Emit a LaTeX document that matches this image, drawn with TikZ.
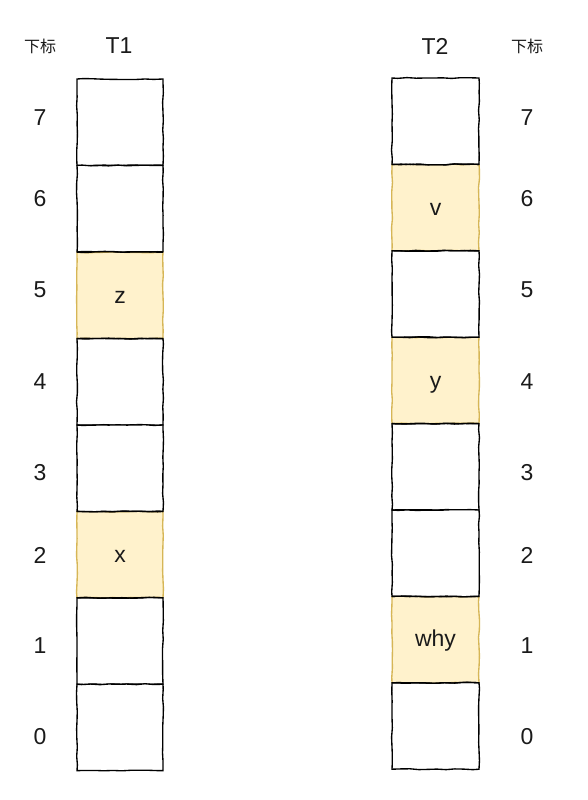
\documentclass[tikz,border=0pt]{standalone}
\usepackage{fontspec}
\setmainfont{Liberation Sans}
\newfontfamily\cjk{Noto Sans CJK SC}
\usetikzlibrary{decorations.pathmorphing}
\definecolor{hlfill}{HTML}{FFF2CC}
\definecolor{hldraw}{HTML}{D6B656}
\definecolor{txt}{HTML}{1A1A1A}
\tikzset{
  rough/.style={decorate,decoration={random steps,segment length=9pt,amplitude=0.5pt}},
  cellbox/.style={rectangle,draw=black,line width=1.35pt,fill=white,rough,
    minimum width=86pt,minimum height=86.4pt,inner sep=0pt,outer sep=0pt,
    font=\fontsize{23}{26}\selectfont,text=txt},
  hlbox/.style={cellbox,draw=hldraw,fill=hlfill,text height=16.5pt,text depth=0pt},
  idx/.style={font=\fontsize{23}{26}\selectfont,inner sep=0pt,text=txt},
  head/.style={font=\fontsize{23}{26}\selectfont,inner sep=0pt,text=txt},
  sub/.style={font=\cjk\fontsize{16}{18}\selectfont,inner sep=0pt,text=txt}
}
\begin{document}
\begin{tikzpicture}[x=1pt,y=-1pt]
\useasboundingbox[fill=white] (0,0) rectangle (588,800);
% highlighted cells first
\node[hlbox] (a5) at (120,295.4) {z};
\node[hlbox] (a2) at (120,554.6) {x};
\node[hlbox,minimum width=87pt] (b6) at (435.5,207.6) {v};
\node[hlbox,minimum width=87pt] (b4) at (435.5,380.4) {y};
\node[hlbox,minimum width=87pt,text depth=3pt] (b1) at (435.5,639.6) {why};
% plain cells
\node[cellbox] (a7) at (120,122.2) {};
\node[cellbox] (a6) at (120,208.6) {};
\node[cellbox] (a4) at (120,381.8) {};
\node[cellbox] (a3) at (120,468.2) {};
\node[cellbox] (a1) at (120,641.0) {};
\node[cellbox] (a0) at (120,727.4) {};
\node[cellbox,minimum width=87pt] (b7) at (435.5,121.2) {};
\node[cellbox,minimum width=87pt] (b5) at (435.5,294.0) {};
\node[cellbox,minimum width=87pt] (b3) at (435.5,466.8) {};
\node[cellbox,minimum width=87pt] (b2) at (435.5,553.2) {};
\node[cellbox,minimum width=87pt] (b0) at (435.5,726.0) {};
% redraw top/bottom edges of highlighted cells in black
\foreach \n in {a5,a2,b6,b4,b1}{
  \draw[line width=1.35pt,rough] (\n.north west) -- (\n.north east);
  \draw[line width=1.35pt,rough] (\n.south west) -- (\n.south east);
}
% headers
\node[sub] (s1) at (40,46) {下标};
\node[head] (t1) at (119,46) {T1};
\node[head] (t2) at (435,46) {T2};
\node[sub] (s2) at (527,46) {下标};
% indices
\foreach \i/\yy in {7/118,6/199,5/290,4/382,3/473,2/555,1/646,0/737}{
  \node[idx] (l\i) at (40,\yy) {\i};
  \node[idx] (r\i) at (527,\yy) {\i};
}
\end{tikzpicture}
\end{document}
